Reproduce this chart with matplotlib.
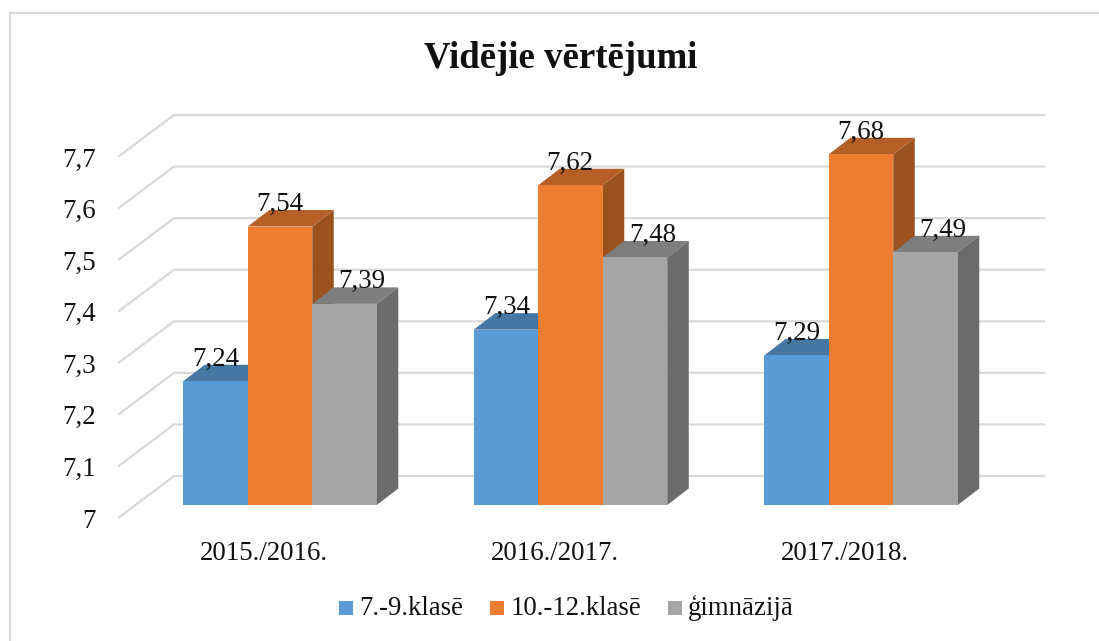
import matplotlib
matplotlib.use('Agg')
import matplotlib.pyplot as plt

plt.rcParams['font.family'] = ['Liberation Serif', 'DejaVu Serif']

# Дані з діаграми
years = ['2015./2016.', '2016./2017.', '2017./2018.']
series_names = ['7.-9.klasē', '10.-12.klasē', 'ģimnāzijā']
klase_7_9 = [7.24, 7.34, 7.29]
klase_10_12 = [7.54, 7.62, 7.68]
gimnazija = [7.39, 7.48, 7.49]
y_ticks = [7, 7.1, 7.2, 7.3, 7.4, 7.5, 7.6, 7.7]
y_labels = ['7', '7,1', '7,2', '7,3', '7,4', '7,5', '7,6', '7,7']

front_colors = ['#5B9BD5', '#ED7D31', '#A5A5A5']
top_colors = ['#4676A3', '#B55F26', '#7E7E7E']
side_colors = ['#3D6790', '#9B521F', '#6B6B6B']

W, H = 1099, 641
fig = plt.figure(figsize=(W / 100, H / 100), dpi=100)
ax = fig.add_axes([0, 0, 1, 1])

# масштаб: одна група = 290.5 px, одиниця оцінки = 515.7 px
PX_X = 290.5
PX_Y = 515.7
ax.set_xlim(-280 / PX_X, (W - 280) / PX_X)
ax.set_ylim(7 - (H - 505) / PX_Y, 7 + 505 / PX_Y)
ax.axis('off')


def ox(px):
    return px / PX_X


def oy(px):
    return px / PX_Y


# рамка
ax.plot([ox(10 - 280), ox(10 - 280)], [ax.get_ylim()[0], 7 + oy(505 - 13)], color='#D9D9D9', lw=1.5)
ax.plot([ox(10 - 280), ox(W - 280)], [7 + oy(505 - 13)] * 2, color='#D9D9D9', lw=1.5)

# сітка: стіна позаду та діагоналі
for t, lab in zip(y_ticks, y_labels):
    xs = [ox(118 - 280), ox(174 - 280), ox(1045 - 280)]
    ys = [t - oy(13), t + oy(29), t + oy(29)]
    ax.plot(xs, ys, color='#D9D9D9', lw=1.6, solid_capstyle='butt', zorder=1)
    ax.text(ox(95.5 - 280), t - oy(16), lab, ha='right', va='center', fontsize=19.4, color='#111111')

bar_w = 64.5 / PX_X
dx = ox(21.5)
dy = oy(16.5)
all_series = [klase_7_9, klase_10_12, gimnazija]
label_dx = [33, 32, 50]

for s, values in enumerate(all_series):
    for g, v in enumerate(values):
        x0 = g + (s - 1.5) * bar_w
        x1 = x0 + bar_w
        z = 3 + g * 3 + s * 0.1
        # бокова грань
        ax.fill([x1, x1 + dx, x1 + dx, x1], [7, 7 + dy, v + dy, v], color=side_colors[s], lw=0, zorder=z)
        # верхня грань
        ax.fill([x0, x0 + dx, x1 + dx, x1], [v, v + dy, v + dy, v], color=top_colors[s], lw=0, zorder=z)
        # передня грань
        ax.fill([x0, x1, x1, x0], [7, 7, v, v], color=front_colors[s], lw=0, zorder=z + 0.05)

for s, values in enumerate(all_series):
    for g, v in enumerate(values):
        x0 = g + (s - 1.5) * bar_w
        ax.text(x0 + ox(label_dx[s]), v + oy(22), str(v).replace('.', ','), ha='center', va='center',
                fontsize=19.4, color='#111111', zorder=30)

for g, year in enumerate(years):
    ax.text(g - ox(16), 7 - oy(48), year, ha='center', va='center', fontsize=19.4, color='#111111')

ax.text(ox(561 - 280), 7 + oy(505 - 59), 'Vidējie vērtējumi', ha='center', va='center',
        fontsize=26.5, fontweight='bold', color='#111111')

# легенда
legend_sq = [339, 490, 668]
legend_txt = [359, 511, 688]
for sq, tx, name, col in zip(legend_sq, legend_txt, series_names, front_colors):
    ax.fill([ox(sq - 280), ox(sq + 14 - 280), ox(sq + 14 - 280), ox(sq - 280)],
            [7 - oy(96), 7 - oy(96), 7 - oy(110), 7 - oy(110)], color=col, lw=0)
    ax.text(ox(tx - 280), 7 - oy(103), name, ha='left', va='center', fontsize=19.3, color='#111111')

fig.savefig('out.png', dpi=100)
